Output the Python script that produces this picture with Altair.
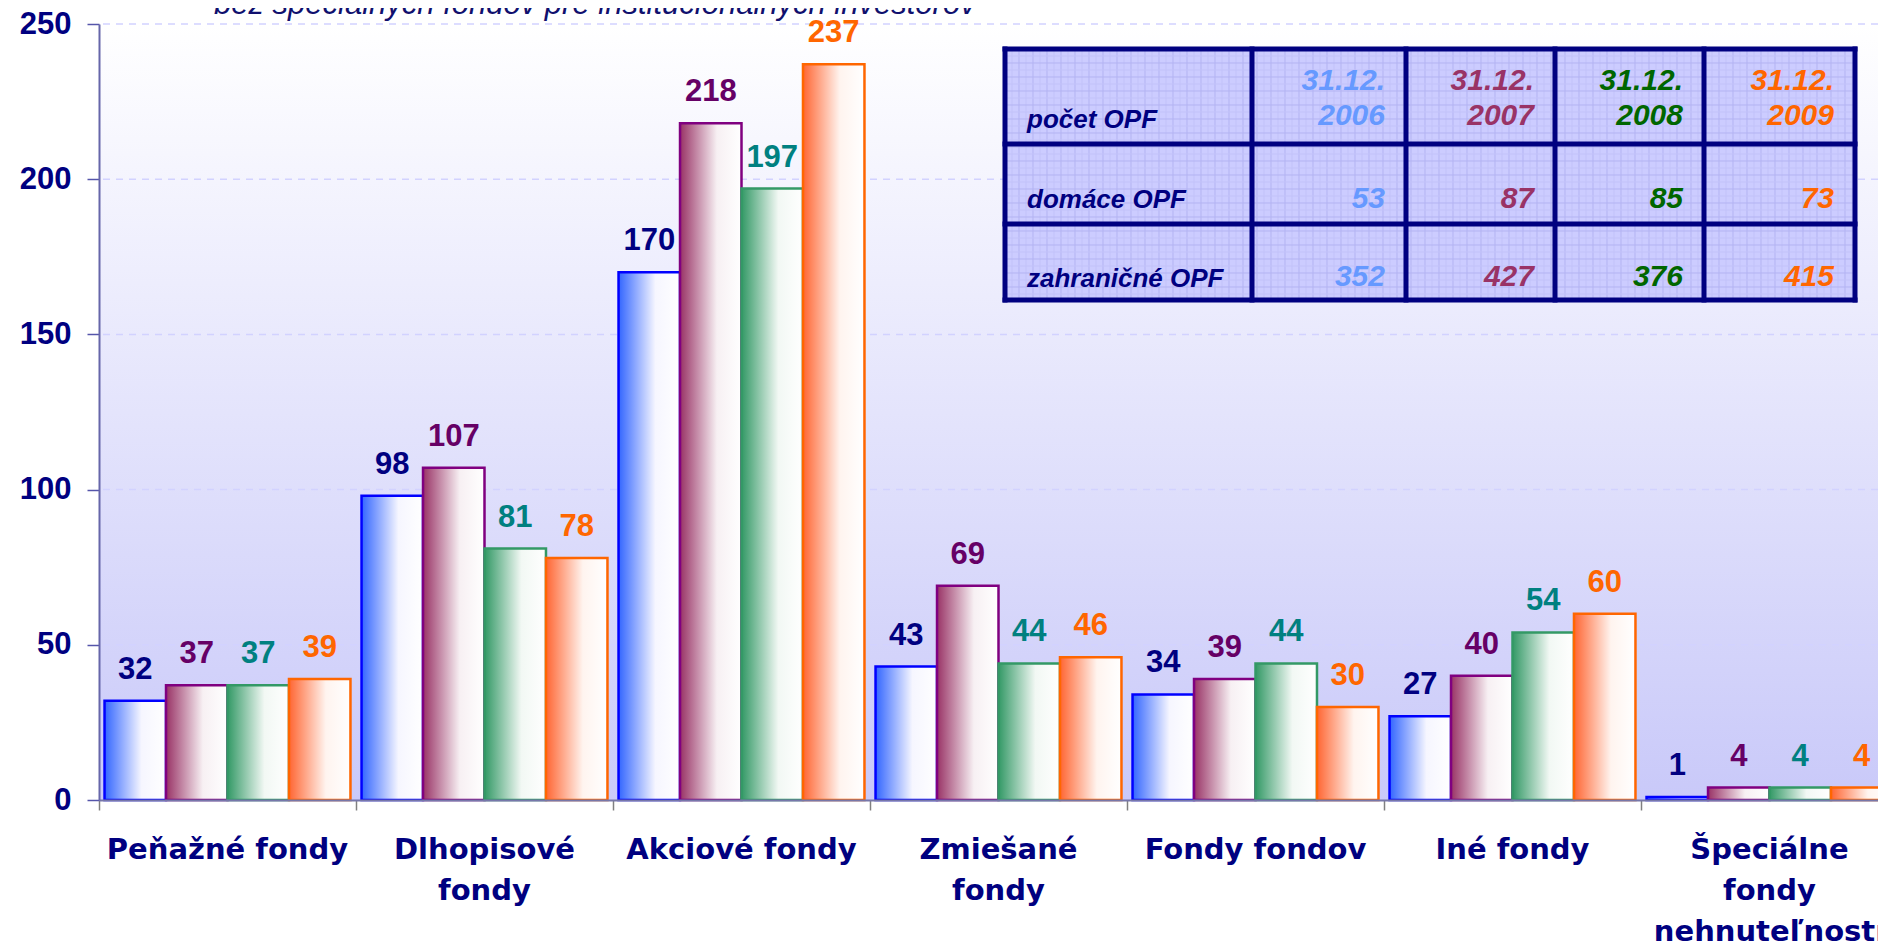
import json
import altair as alt
import pandas as pd

# ---------------- data ----------------
categories = ["Peňažné fondy", "Dlhopisové fondy", "Akciové fondy", "Zmiešané fondy",
              "Fondy fondov", "Iné fondy", "Špeciálne fondy nehnuteľností"]
category_lines = [["Peňažné fondy"], ["Dlhopisové", "fondy"], ["Akciové fondy"],
                  ["Zmiešané", "fondy"], ["Fondy fondov"], ["Iné fondy"],
                  ["Špeciálne", "fondy", "nehnuteľností"]]
series = ["2006", "2007", "2008", "2009"]
v2006 = [32, 98, 170, 43, 34, 27, 1]
v2007 = [37, 107, 218, 69, 39, 40, 4]
v2008 = [37, 81, 197, 44, 44, 54, 4]
v2009 = [39, 78, 237, 46, 30, 60, 4]
y_ticks = [0, 50, 100, 150, 200, 250]
grid_ticks = [50, 100, 150, 200, 250]

title_text = "bez špeciálnych fondov pre inštitucionálnych investorov"
table_row_labels = ["počet OPF", "domáce OPF", "zahraničné OPF"]
table_dates = ["31.12.", "31.12.", "31.12.", "31.12."]
table_domestic = [53, 87, 85, 73]
table_foreign = [352, 427, 376, 415]

# ---------------- styles ----------------
W, H = 1779, 776
STEP = 257
NAVY = "#000080"
NUM_FONT = "Liberation Sans"
bar_start = {"2006": "#3366ff", "2007": "#993366", "2008": "#339966", "2009": "#ff6633"}
bar_end = {"2006": "#f6f6ff", "2007": "#f7f0f3", "2008": "#f2f8f4", "2009": "#fff4ef"}
bar_stroke = {"2006": "#0000ff", "2007": "#800080", "2008": "#339966", "2009": "#ff6600"}
label_colors = ["#000080", "#660066", "#008080", "#ff6600"]
table_colors = ["#6699ff", "#993366", "#006600", "#ff6600"]

rows = []
for s, vals in zip(series, [v2006, v2007, v2008, v2009]):
    for c, v in zip(categories, vals):
        rows.append({"cat": c, "series": s, "value": v})
df = pd.DataFrame(rows)

label_expr = ""
for c, lines in zip(categories, category_lines):
    label_expr += f"datum.value == '{c}' ? {json.dumps(lines, ensure_ascii=False)} : "
label_expr += "datum.label"

x_enc = alt.X(
    "cat:N", sort=categories,
    scale=alt.Scale(domain=categories, range=[0, STEP * len(categories)],
                    paddingInner=0, paddingOuter=0),
    axis=alt.Axis(title=None, labelAngle=0, labelFont="DejaVu Sans", labelFontWeight="bold",
                  labelFontSize=29, labelColor=NAVY, labelLineHeight=41, labelPadding=25,
                  labelLimit=600, labelOverlap=False, labelExpr=label_expr,
                  tickSize=10, tickColor="#808080", tickWidth=1.5, bandPosition=0,
                  domainColor="#7777aa", domainWidth=2, grid=False, zindex=1),
)
xo_enc = alt.XOffset("series:N", scale=alt.Scale(domain=series, paddingInner=0, paddingOuter=0.09))
y_enc = alt.Y(
    "value:Q", scale=alt.Scale(domain=[0, 250], nice=False),
    axis=alt.Axis(title=None, values=y_ticks, labelFont=NUM_FONT, labelFontWeight="bold",
                  labelFontSize=31, labelColor=NAVY, labelPadding=16, tickSize=12,
                  tickColor="#5555aa", tickWidth=1.5, domainColor="#6666aa", domainWidth=2,
                  grid=False, zindex=1),
)

layers = []

# plot-area background gradient
bg = alt.Chart(pd.DataFrame({"a": [0]})).mark_rect(
    fill=alt.Gradient(gradient="linear", x1=0, x2=0, y1=0, y2=1,
                      stops=[alt.GradientStop(offset=0, color="#ffffff"),
                             alt.GradientStop(offset=1, color="#c9c9f9")])
).encode(x=alt.value(0), x2=alt.value(W), y=alt.value(0), y2=alt.value(H))
layers.append(bg)

# dashed gridlines
grid = alt.Chart(pd.DataFrame({"g": grid_ticks})).mark_rule(
    color="#d2d2ff", strokeDash=[7, 6], strokeWidth=1.5
).encode(y=alt.Y("g:Q"))
layers.append(grid)

for s in series:
    grad = alt.Gradient(gradient="linear", x1=0, x2=1, y1=0, y2=0,
                        stops=[alt.GradientStop(offset=0, color=bar_start[s]),
                               alt.GradientStop(offset=0.6, color=bar_end[s]),
                               alt.GradientStop(offset=1, color="#ffffff")])
    layers.append(
        alt.Chart(df).transform_filter(alt.datum.series == s)
        .mark_bar(fill=grad, stroke=bar_stroke[s], strokeWidth=2.5)
        .encode(x=x_enc, xOffset=xo_enc, y=y_enc)
    )

labels = alt.Chart(df).mark_text(
    font=NUM_FONT, fontWeight="bold", fontSize=31, baseline="alphabetic", dy=-22
).encode(
    x=x_enc, xOffset=xo_enc, y=y_enc, text="value:Q",
    color=alt.Color("series:N", scale=alt.Scale(domain=series, range=label_colors), legend=None),
)
layers.append(labels)


def txt(text, x, y, color, align="left", font="Liberation Sans", size=26,
        style="italic", weight="bold"):
    return alt.Chart(pd.DataFrame({"t": [text]})).mark_text(
        align=align, baseline="alphabetic", font=font, fontSize=size,
        fontStyle=style, fontWeight=weight, color=color
    ).encode(x=alt.value(x), y=alt.value(y), text="t:N")


# title (partly cut at top)
layers.append(txt(title_text, 115, -10, "#10106e", size=31, weight="normal"))

# ---------------- table ----------------
col_x = [906, 1153, 1307, 1456, 1605, 1756]
row_y = [25, 120, 200, 276]
layers.append(
    alt.Chart(pd.DataFrame({"a": [0]})).mark_rect(fill="#ccccff").encode(
        x=alt.value(col_x[0]), x2=alt.value(col_x[-1]),
        y=alt.value(row_y[0]), y2=alt.value(row_y[-1]))
)
# fine grid texture of the table background (decoration)
for start, colr in [(col_x[0] + 7, "#c2c2f9"), (col_x[0] + 14, "#b3b3f2")]:
    tv = pd.DataFrame({"px": list(range(start, col_x[-1] - 2, 14))})
    layers.append(
        alt.Chart(tv).mark_rule(strokeWidth=1, color=colr).encode(
            x=alt.X("px:Q", scale=None, axis=None),
            y=alt.value(row_y[0]), y2=alt.value(row_y[-1]))
    )
for start, colr in [(row_y[0] + 7, "#c2c2f9"), (row_y[0] + 14, "#b3b3f2")]:
    th = pd.DataFrame({"py": list(range(start, row_y[-1] - 2, 14))})
    layers.append(
        alt.Chart(th).mark_rule(strokeWidth=1, color=colr).encode(
            y=alt.Y("py:Q", scale=None, axis=None),
            x=alt.value(col_x[0]), x2=alt.value(col_x[-1]))
    )
for cx in col_x:
    layers.append(
        alt.Chart(pd.DataFrame({"a": [0]})).mark_rule(color=NAVY, strokeWidth=5, strokeCap="square")
        .encode(x=alt.value(cx), y=alt.value(row_y[0]), y2=alt.value(row_y[-1]))
    )
for ry in row_y:
    layers.append(
        alt.Chart(pd.DataFrame({"a": [0]})).mark_rule(color=NAVY, strokeWidth=5, strokeCap="square")
        .encode(x=alt.value(col_x[0]), x2=alt.value(col_x[-1]), y=alt.value(ry))
    )

row_base = [104, 184, 263]
for lab, yb in zip(table_row_labels, row_base):
    layers.append(txt(lab, col_x[0] + 22, yb, NAVY, size=26))
for i, s in enumerate(series):
    xr = col_x[i + 2] - 21
    layers.append(txt(table_dates[i], xr, 66, table_colors[i], align="right", size=30))
    layers.append(txt(s, xr, 101, table_colors[i], align="right", size=30))
    layers.append(txt(str(table_domestic[i]), xr, 184, table_colors[i], align="right", size=30))
    layers.append(txt(str(table_foreign[i]), xr, 262, table_colors[i], align="right", size=30))

chart = alt.layer(*layers).properties(
    width=W, height=H,
    autosize=alt.AutoSizeParams(type="none"),
    padding={"left": 91, "top": 16, "right": 0, "bottom": 146},
    background="#ffffff",
).configure_view(stroke=None)

chart.save("out.html", embed_options={"renderer": "svg", "actions": False})
